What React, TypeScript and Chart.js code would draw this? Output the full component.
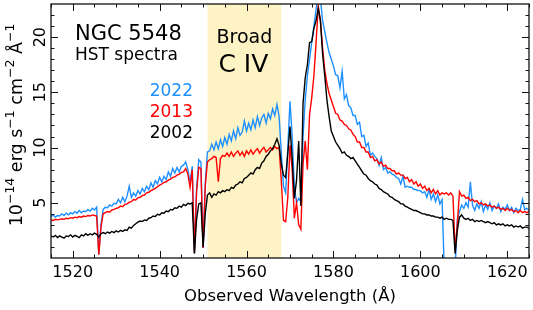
import React, { useEffect, useRef } from "react";
import { Chart, registerables } from "chart.js";

Chart.register(...registerables);

// ---- data -------------------------------------------------------------
const WAVE_START = 1515; // Å, first sample
const WAVE_STEP = 0.5; // Å between samples

const X_MIN = 1515;
const X_MAX = 1625;
const Y_MIN = 0;
const Y_MAX = 23;
const X_MAJOR = [1520, 1540, 1560, 1580, 1600, 1620];
const X_MINOR = [1515, 1525, 1530, 1535, 1545, 1550, 1555, 1565, 1570, 1575, 1585, 1590, 1595, 1605, 1610, 1615, 1625];
const Y_MAJOR = [5, 10, 15, 20];
const Y_MINOR = [1, 2, 3, 4, 6, 7, 8, 9, 11, 12, 13, 14, 16, 17, 18, 19, 21, 22];
const BAND = [1551, 1568];

const TITLE_LINES = ["NGC 5548", "HST spectra"];
const BAND_LINES = ["Broad", "C IV"];
const SERIES_LABELS = ["2022", "2013", "2002"];
const SERIES_COLORS = ["#1E90FF", "#FF0000", "#000000"];
const X_TITLE = "Observed Wavelength (Å)";

// flux in 1e-14 erg s-1 cm-2 Å-1, every 0.5 Å from 1515 to 1625
const FLUX_2022 = [
  3.75, 3.9, 3.7, 3.85, 3.8, 4.0, 3.85, 4.05, 3.9, 4.1,
  4.0, 4.2, 4.05, 4.3, 4.1, 4.25, 4.2, 4.4, 4.25, 4.5,
  4.35, 4.6, 0.35, 3.0, 4.4, 4.6, 4.55, 4.8, 4.7, 4.95,
  4.9, 5.3, 5.0, 5.5, 5.1, 5.6, 6.5, 5.5, 5.9, 5.6,
  6.1, 5.8, 6.3, 6.0, 6.5, 6.2, 6.8, 6.4, 7.0, 6.7,
  7.3, 6.9, 7.4, 7.1, 7.8, 7.4, 8.1, 7.7, 8.2, 7.8,
  8.3, 8.4, 8.7, 8.0, 6.8, 8.3, 0.5, 6.2, 8.9, 8.7,
  0.9, 6.8, 9.6, 9.7, 10.3, 9.8, 10.5, 9.9, 10.7, 10.1,
  10.9, 10.3, 11.2, 10.6, 11.5, 10.8, 11.8, 11.1, 11.4, 12.4,
  11.5, 12.2, 11.6, 12.5, 11.8, 12.8, 12.0, 12.7, 13.0, 12.2,
  13.1, 12.6, 13.5, 12.9, 13.9, 12.8, 9.5, 6.5, 5.9, 10.0,
  14.2, 11.0, 6.5, 5.0, 5.4, 5.1, 11.0, 14.3, 16.5, 18.0,
  19.5, 21.0, 22.5, 23.8, 23.5, 21.5, 20.5, 19.5, 18.6, 18.0,
  17.4, 16.6, 16.5, 15.4, 16.9, 14.4, 14.8, 13.8, 13.6, 12.9,
  12.9, 12.1, 12.3, 11.0, 11.1, 10.1, 10.4, 9.3, 9.5, 9.2,
  9.0, 8.4, 9.1, 8.0, 8.2, 7.7, 7.8, 7.6, 7.5, 7.3,
  7.2, 6.7, 7.4, 6.4, 6.5, 6.4, 6.4, 6.2, 6.2, 6.1,
  6.1, 5.9, 6.0, 5.5, 6.2, 5.3, 5.8, 5.1, 5.7, 4.9,
  5.3, -1, -1, -1, -1, -1, -1, 3.5, 4.2, 4.8,
  4.5, 5.0, 4.6, 6.9, 4.8, 4.3, 4.9, 4.5, 5.1, 4.2,
  4.8, 4.4, 5.0, 4.3, 4.7, 4.5, 4.9, 4.2, 4.6, 4.4,
  4.8, 4.3, 4.6, 4.1, 4.5, 4.3, 4.4, 5.3, 4.4, 4.5,
  4.3,
];

const FLUX_2013 = [
  3.45, 3.4, 3.5, 3.45, 3.5, 3.55, 3.5, 3.6, 3.55, 3.65,
  3.6, 3.7, 3.65, 3.75, 3.7, 3.8, 3.75, 3.85, 3.8, 3.9,
  3.85, 3.8, 0.3, 2.8, 4.0, 4.1, 4.2, 4.15, 4.35, 4.4,
  4.5, 4.55, 4.7, 4.65, 4.85, 4.9, 5.05, 5.1, 5.3, 5.25,
  5.45, 5.5, 5.65, 5.7, 5.9, 5.95, 6.1, 6.2, 6.3, 6.45,
  6.6, 6.7, 6.85, 6.9, 7.05, 7.15, 7.3, 7.35, 7.5, 7.6,
  7.75, 7.8, 8.1, 7.6, 6.4, 8.0, 0.45, 6.0, 8.2, 8.1,
  0.9, 6.5, 8.7, 8.9, 9.0, 9.2, 9.1, 6.9, 9.0, 9.3,
  9.2, 9.5, 9.2, 9.6, 9.2, 9.5, 9.7, 9.3, 9.6, 9.2,
  9.7, 9.4, 9.8, 9.4, 9.7, 9.9, 9.5, 9.8, 10.0, 9.6,
  9.8, 10.0, 9.8, 10.1, 9.9, 10.0, 7.0, 3.4, 3.3, 5.5,
  10.2, 8.0, 3.6, 5.0, 3.0, 2.6, 8.5, 10.6, 8.0, 13.0,
  14.5, 16.5, 19.5, 22.8, 21.5, 19.0, 17.0, 15.8, 14.9, 14.3,
  13.7, 13.1, 13.0, 12.5, 12.4, 12.1, 12.0, 11.7, 11.6, 11.2,
  11.0, 10.5, 10.5, 10.0, 10.0, 9.6, 9.6, 9.1, 9.2, 8.8,
  8.9, 8.5, 8.7, 8.3, 8.4, 8.1, 8.1, 7.9, 7.9, 7.6,
  7.7, 7.5, 7.5, 7.2, 7.3, 6.9, 7.1, 6.7, 6.9, 6.5,
  6.7, 6.3, 6.5, 6.1, 6.3, 5.9, 6.2, 5.8, 6.1, 5.7,
  5.9, 5.8, 5.9, 5.7, 5.9, 5.6, 0.7, 3.0, 6.0, 5.6,
  5.7, 5.4, 5.5, 5.2, 5.3, 5.1, 5.2, 4.9, 5.0, 4.8,
  4.9, 4.7, 4.8, 4.6, 4.7, 4.5, 4.6, 4.4, 4.5, 4.3,
  4.5, 4.3, 4.4, 4.2, 4.3, 4.1, 4.3, 4.1, 4.2, 4.1,
  4.2,
];

const FLUX_2002 = [
  2.0, 1.9, 2.05, 1.85, 2.0, 1.9, 1.8, 2.0, 1.95, 2.1,
  1.9, 2.05, 1.95, 1.85, 2.1, 2.0, 2.2, 2.05, 2.2, 2.1,
  2.25, 2.15, 1.9, 2.2, 2.3, 2.2, 2.35, 2.25, 2.4, 2.3,
  2.45, 2.35, 2.5, 2.4, 2.55, 2.5, 2.8, 2.7, 2.95, 3.1,
  3.25, 3.35, 3.3, 3.45, 3.4, 3.6, 3.65, 3.8, 3.75, 3.95,
  3.9, 4.1, 4.05, 4.25, 4.2, 4.4, 4.35, 4.55, 4.5, 4.7,
  4.6, 4.85, 4.75, 4.95, 4.9, 5.0, 0.4, 3.5, 4.9, 5.0,
  1.0, 4.0, 5.7, 5.9, 5.5, 5.8, 5.7, 6.0, 5.9, 6.1,
  6.0, 6.2, 6.1, 6.4, 6.3, 6.6, 6.7, 6.9, 6.8, 7.2,
  7.3, 7.5, 7.7, 7.6, 8.0, 8.2, 8.1, 8.6, 8.8, 9.2,
  9.4, 9.7, 9.9, 10.3, 10.8, 10.2, 8.5, 7.5, 7.3, 9.5,
  11.9, 9.0, 5.4, 7.0, 10.6, 4.7, 14.0, 16.3, 17.5, 19.5,
  19.6, 20.8, 21.5, 22.6, 21.5, 18.5, 16.5, 14.3, 12.8, 11.5,
  11.0, 10.5, 10.2, 9.9, 9.5, 9.6, 9.3, 9.2, 9.0, 9.1,
  8.8, 8.5, 8.2, 7.9, 7.6, 7.5, 7.2, 7.0, 6.9, 6.7,
  6.6, 6.3, 6.2, 6.0, 5.9, 5.8, 5.55, 5.5, 5.3, 5.2,
  5.1, 4.9, 4.9, 4.7, 4.6, 4.5, 4.4, 4.3, 4.3, 4.2,
  4.1, 4.0, 4.0, 3.9, 3.9, 3.8, 3.8, 3.7, 3.7, 3.6,
  3.7, 3.5, 3.6, 3.5, 3.5, 3.4, 0.4, 2.5, 3.7, 3.9,
  3.6, 3.5, 3.6, 3.4, 3.5, 3.3, 3.4, 3.3, 3.4, 3.3,
  3.2, 3.3, 3.2, 3.1, 3.2, 3.0, 3.1, 3.0, 3.1, 2.9,
  3.0, 2.9, 3.0, 2.8, 2.9, 2.8, 2.9, 2.7, 2.8, 2.8,
  2.7,
];

const FONT = "'DejaVu Sans', 'Liberation Sans', sans-serif";

function toPoints(flux: number[]) {
  return flux.map((y, i) => ({ x: WAVE_START + i * WAVE_STEP, y }));
}

const decorPlugin = {
  id: "decor",
  beforeDatasetsDraw(chart: any) {
    const { ctx, chartArea, scales } = chart;
    const x1 = scales.x.getPixelForValue(BAND[0]);
    const x2 = scales.x.getPixelForValue(BAND[1]);
    ctx.save();
    ctx.fillStyle = "rgb(253,243,196)";
    ctx.fillRect(x1, chartArea.top, x2 - x1, chartArea.bottom - chartArea.top);
    ctx.restore();
  },
  afterDatasetsDraw(chart: any) {
    const { ctx, chartArea, scales } = chart;
    const { left, right, top, bottom } = chartArea;
    const xs = scales.x;
    const ys = scales.y;
    ctx.save();
    ctx.strokeStyle = "#111";
    ctx.lineWidth = 1;
    const MAJ = 7;
    const MIN = 3.5;
    ctx.beginPath();
    const xt = (v: number, len: number) => {
      const p = Math.round(xs.getPixelForValue(v)) + 0.5;
      ctx.moveTo(p, bottom);
      ctx.lineTo(p, bottom - len);
      ctx.moveTo(p, top);
      ctx.lineTo(p, top + len);
    };
    const yt = (v: number, len: number) => {
      const p = Math.round(ys.getPixelForValue(v)) + 0.5;
      ctx.moveTo(left, p);
      ctx.lineTo(left + len, p);
      ctx.moveTo(right, p);
      ctx.lineTo(right - len, p);
    };
    X_MAJOR.forEach((v) => xt(v, MAJ));
    X_MINOR.forEach((v) => xt(v, MIN));
    Y_MAJOR.forEach((v) => yt(v, MAJ));
    Y_MINOR.forEach((v) => yt(v, MIN));
    ctx.stroke();

    ctx.lineWidth = 1.3;
    ctx.strokeStyle = "#111";
    ctx.strokeRect(left, top, right - left, bottom - top);

    // x tick labels
    ctx.fillStyle = "#000";
    ctx.font = `16px ${FONT}`;
    ctx.textAlign = "center";
    ctx.textBaseline = "alphabetic";
    X_MAJOR.forEach((v) => {
      ctx.fillText(String(v), xs.getPixelForValue(v), bottom + 19);
    });
    // x title
    ctx.font = `16.5px ${FONT}`;
    ctx.fillText(X_TITLE, (left + right) / 2, bottom + 43);

    // y tick labels (rotated)
    ctx.font = `16px ${FONT}`;
    Y_MAJOR.forEach((v) => {
      ctx.save();
      ctx.translate(left - 6, ys.getPixelForValue(v));
      ctx.rotate(-Math.PI / 2);
      ctx.textAlign = "center";
      ctx.fillText(String(v), 0, 0);
      ctx.restore();
    });

    // y title with superscripts
    const pieces: [string, boolean][] = [
      ["10", false], ["\u221214", true], [" erg s", false], ["\u22121", true],
      [" cm", false], ["\u22122", true], [" \u00C5", false], ["\u22121", true],
    ];
    const baseFont = `17.5px ${FONT}`;
    const supFont = `12.5px ${FONT}`;
    let total = 0;
    pieces.forEach(([t, s]) => {
      ctx.font = s ? supFont : baseFont;
      total += ctx.measureText(t).width;
    });
    ctx.save();
    ctx.translate(21.5, (top + bottom) / 2 - 6);
    ctx.rotate(-Math.PI / 2);
    ctx.textAlign = "left";
    let cx = -total / 2;
    pieces.forEach(([t, s]) => {
      ctx.font = s ? supFont : baseFont;
      ctx.fillText(t, cx, s ? -7.5 : 0);
      cx += ctx.measureText(t).width;
    });
    ctx.restore();

    // annotations
    ctx.textAlign = "left";
    ctx.fillStyle = "#000";
    ctx.font = `21px ${FONT}`;
    ctx.fillText(TITLE_LINES[0], left + 24, top + 36);
    ctx.font = `17px ${FONT}`;
    ctx.fillText(TITLE_LINES[1], left + 24, top + 56);

    ctx.textAlign = "right";
    ctx.font = `17px ${FONT}`;
    const yearBase = [92, 113, 134];
    SERIES_LABELS.forEach((lab, i) => {
      ctx.fillStyle = SERIES_COLORS[i];
      ctx.fillText(lab, left + 142, top + yearBase[i]);
    });

    const bandMid = (xs.getPixelForValue(BAND[0]) + xs.getPixelForValue(BAND[1])) / 2;
    ctx.fillStyle = "#000";
    ctx.textAlign = "center";
    ctx.font = `19px ${FONT}`;
    ctx.fillText(BAND_LINES[0], bandMid, top + 39);
    ctx.font = `25px ${FONT}`;
    ctx.fillText(BAND_LINES[1], bandMid - 1, top + 68);
    ctx.restore();
  },
};

export default function App() {
  const ref = useRef<HTMLCanvasElement | null>(null);
  useEffect(() => {
    if (!ref.current) return;
    const fluxes = [FLUX_2002, FLUX_2013, FLUX_2022];
    const colors = [SERIES_COLORS[2], SERIES_COLORS[1], SERIES_COLORS[0]];
    const labels = [SERIES_LABELS[2], SERIES_LABELS[1], SERIES_LABELS[0]];
    const chart = new Chart(ref.current, {
      type: "line",
      data: {
        datasets: fluxes.map((f, i) => ({
          label: labels[i],
          data: toPoints(f),
          borderColor: colors[i],
          borderWidth: 1.4,
          pointRadius: 0,
          tension: 0,
          fill: false,
        })),
      },
      options: {
        responsive: false,
        animation: false,
        events: [],
        layout: { padding: { left: 51, right: 4, top: 4, bottom: 52 } },
        scales: {
          x: { type: "linear", min: X_MIN, max: X_MAX, display: false },
          y: { type: "linear", min: Y_MIN, max: Y_MAX, display: false },
        },
        plugins: { legend: { display: false }, tooltip: { enabled: false } },
      },
      plugins: [decorPlugin],
    });
    return () => chart.destroy();
  }, []);
  return (
    <div style={{ position: "fixed", left: 0, top: 0, width: 533, height: 310, background: "#fff" }}>
      <canvas ref={ref} width={533} height={310} />
    </div>
  );
}
